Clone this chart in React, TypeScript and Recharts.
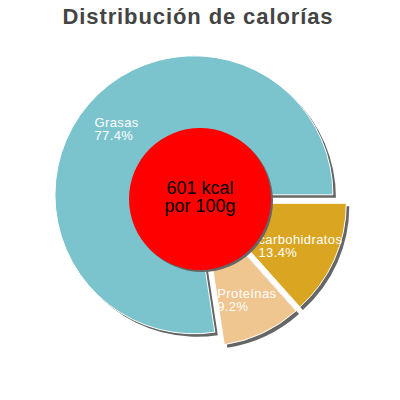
import React from "react";
import { PieChart, Pie, Sector } from "recharts";

// calorie split
const categories = ["Grasas", "Proteínas", "carbohidratos"];
const percents = [77.4, 9.2, 13.4];
const percentLabels = ["77.4%", "9.2%", "13.4%"];
const energyKcal = 601;
const energyLines = [`${energyKcal} kcal`, "por 100g"];
const title = "Distribución de calorías";

const sliceColors = ["#7bc4cd", "#efc590", "#daa520"];
const FONT = '"Liberation Sans", Arial, sans-serif';
const RAD = Math.PI / 180;
const EXPLODE = 8;
const SHADOW = 3;
const LABEL_R = 102;
const LABEL_SIZE = 13;
const LABEL_SPACING = 0.4;

const sliceData = categories.map((name, i) => ({
  name,
  value: percents[i],
  pct: percentLabels[i],
}));
const centerData = [{ name: "energía", value: energyKcal }];

let ctx: CanvasRenderingContext2D | null = null;
function textWidth(s: string, font: string) {
  if (!ctx) ctx = document.createElement("canvas").getContext("2d");
  if (!ctx) return s.length * 7;
  ctx.font = font;
  return ctx.measureText(s).width + s.length * LABEL_SPACING;
}

function explode(midAngle: number) {
  return [EXPLODE * Math.cos(-midAngle * RAD), EXPLODE * Math.sin(-midAngle * RAD)];
}

function renderShadow(props: any) {
  const { cx, cy, outerRadius, startAngle, endAngle, midAngle } = props;
  const [dx, dy] = explode(midAngle);
  return (
    <Sector
      cx={cx + dx + SHADOW}
      cy={cy + dy + SHADOW}
      innerRadius={0}
      outerRadius={outerRadius}
      startAngle={startAngle}
      endAngle={endAngle}
      fill="#666"
      stroke="none"
    />
  );
}

function renderSlice(props: any) {
  const { cx, cy, outerRadius, startAngle, endAngle, midAngle, index, payload } = props;
  const [dx, dy] = explode(midAngle);
  const scx = cx + dx;
  const scy = cy + dy;
  const lx = scx + LABEL_R * Math.cos(-midAngle * RAD);
  const ly = scy + LABEL_R * Math.sin(-midAngle * RAD);
  const font = `${LABEL_SIZE}px ${FONT}`;
  const name = payload?.name ?? categories[index];
  const pct = payload?.pct ?? percentLabels[index];
  const w = Math.max(textWidth(name, font), textWidth(pct, font));
  const left = lx - w / 2;
  const textProps = {
    fill: "#fff",
    fontSize: LABEL_SIZE,
    fontFamily: FONT,
    letterSpacing: LABEL_SPACING,
  };
  return (
    <g>
      <Sector
        cx={scx}
        cy={scy}
        innerRadius={0}
        outerRadius={outerRadius}
        startAngle={startAngle}
        endAngle={endAngle}
        fill={sliceColors[index]}
        stroke="#fff"
        strokeWidth={1}
      />
      <text x={left} y={ly - 1.2} {...textProps}>
        {name}
      </text>
      <text x={left} y={ly + 11.6} {...textProps}>
        {pct}
      </text>
    </g>
  );
}

// red energy disc with its shadow and the two lines of text
function renderCenter(props: any) {
  const { cx, cy, outerRadius } = props;
  return (
    <g>
      <circle cx={cx + 2} cy={cy + 2} r={outerRadius} fill="#666" />
      <circle cx={cx} cy={cy} r={outerRadius} fill="#ff0000" />
      <text x={cx} y={cy - 4.7} textAnchor="middle" fill="#000" fontSize={18} fontFamily={FONT}>
        {energyLines[0]}
      </text>
      <text x={cx} y={cy + 13.3} textAnchor="middle" fill="#000" fontSize={18} fontFamily={FONT}>
        {energyLines[1]}
      </text>
    </g>
  );
}

export default function App() {
  return (
    <div style={{ position: "fixed", left: 0, top: 0, width: 400, height: 400, background: "#fff" }}>
      <svg width={400} height={40} style={{ position: "absolute", left: 0, top: 0 }}>
        <text
          x={198}
          y={24}
          textAnchor="middle"
          fill="#444"
          fontSize={22}
          fontWeight="bold"
          letterSpacing={0.9}
          fontFamily={FONT}
        >
          {title}
        </text>
      </svg>
      <PieChart width={400} height={400} margin={{ top: 0, right: 0, bottom: 0, left: 0 }}>
        <Pie
          data={sliceData}
          dataKey="value"
          nameKey="name"
          cx={200}
          cy={200}
          outerRadius={139}
          startAngle={0}
          endAngle={360}
          fill="none"
          stroke="none"
          label={renderShadow}
          labelLine={false}
          isAnimationActive={false}
        />
        <Pie
          data={sliceData}
          dataKey="value"
          nameKey="name"
          cx={200}
          cy={200}
          outerRadius={139}
          startAngle={0}
          endAngle={360}
          fill="none"
          stroke="none"
          label={renderSlice}
          labelLine={false}
          isAnimationActive={false}
        />
        <Pie
          data={centerData}
          dataKey="value"
          cx={200}
          cy={199}
          outerRadius={71}
          fill="none"
          stroke="none"
          label={renderCenter}
          labelLine={false}
          isAnimationActive={false}
        />
      </PieChart>
    </div>
  );
}
